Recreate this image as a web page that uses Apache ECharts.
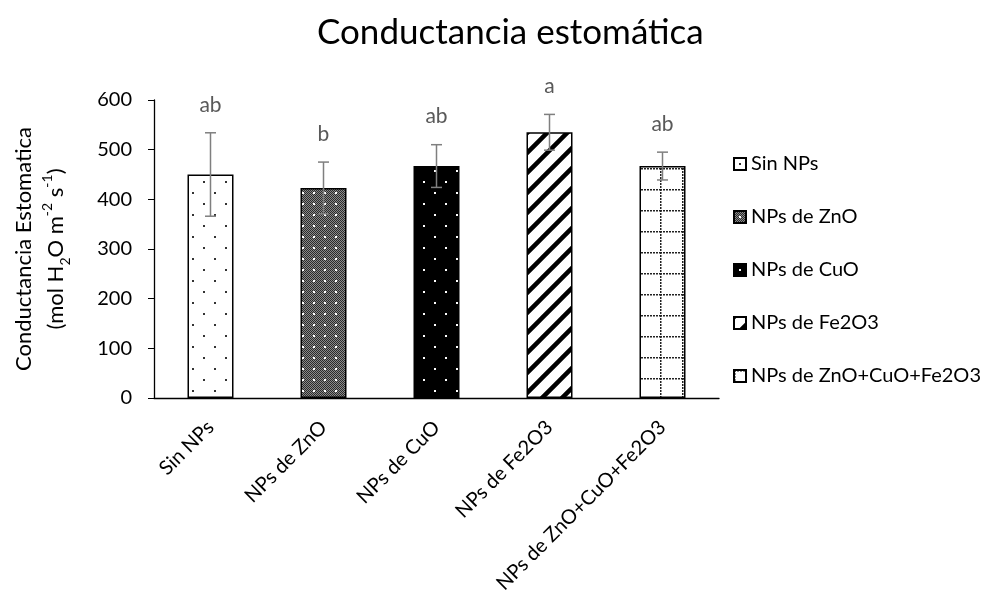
<!DOCTYPE html>
<html>
<head>
<meta charset="utf-8">
<script src="https://cdn.jsdelivr.net/npm/echarts@6/dist/echarts.min.js"></script>
<style>
html,body{margin:0;padding:0;background:#fff;}
#chart{width:995px;height:597px;}
</style>
</head>
<body>
<div id="chart"></div>
<script>
// ---- data ----
const categories = ['Sin NPs', 'NPs de ZnO', 'NPs de CuO', 'NPs de Fe2O3', 'NPs de ZnO+CuO+Fe2O3'];
const means = [450, 423, 467, 535, 467];
const sds = [84, 52, 43, 36, 28];
const letters = ['ab', 'b', 'ab', 'a', 'ab'];
const yTicks = [0, 100, 200, 300, 400, 500, 600];

const FONT = 'Lato, "Liberation Sans", sans-serif';

function makePattern(w, h, draw) {
  const c = document.createElement('canvas');
  c.width = w; c.height = h;
  const ctx = c.getContext('2d');
  draw(ctx, w, h);
  return { image: c, repeat: 'repeat' };
}

const patterns = [
  // white with black staggered dots
  makePattern(22, 22, (ctx, w, h) => {
    ctx.fillStyle = '#fff'; ctx.fillRect(0, 0, w, h);
    ctx.fillStyle = '#333';
    ctx.fillRect(5, 5, 2, 2);
    ctx.fillRect(16, 16, 2, 2);
  }),
  // dark fine checker with white dots
  makePattern(22, 22, (ctx, w, h) => {
    for (let y = 0; y < h; y++) {
      for (let x = 0; x < w; x++) {
        ctx.fillStyle = ((x + y) % 2 === 0) ? '#2a2a2a' : '#8a8a8a';
        ctx.fillRect(x, y, 1, 1);
      }
    }
    ctx.fillStyle = '#fff';
    ctx.fillRect(5, 5, 2, 2);
    ctx.fillRect(16, 16, 2, 2);
    ctx.fillRect(16, 5, 2, 2);
    ctx.fillRect(5, 16, 2, 2);
  }),
  // black with white staggered dots
  makePattern(22, 22, (ctx, w, h) => {
    ctx.fillStyle = '#000'; ctx.fillRect(0, 0, w, h);
    ctx.fillStyle = '#fff';
    ctx.fillRect(5, 5, 2, 2);
    ctx.fillRect(16, 16, 2, 2);
  }),
  // wide diagonal stripes
  makePattern(20, 20, (ctx, w, h) => {
    ctx.fillStyle = '#fff'; ctx.fillRect(0, 0, w, h);
    ctx.strokeStyle = '#000'; ctx.lineWidth = 4.5;
    ctx.beginPath();
    ctx.moveTo(-5, 25); ctx.lineTo(25, -5);
    ctx.moveTo(-15, 15); ctx.lineTo(15, -15);
    ctx.moveTo(5, 35); ctx.lineTo(35, 5);
    ctx.stroke();
  }),
  // dotted grid
  makePattern(22, 21, (ctx, w, h) => {
    ctx.fillStyle = '#fff'; ctx.fillRect(0, 0, w, h);
    ctx.fillStyle = '#222';
    for (let x = 0; x < w; x += 3) ctx.fillRect(x, 0, 2, 1.5);
    for (let y = 0; y < h; y += 3) ctx.fillRect(0, y, 1.5, 2);
  })
];

const barSeries = categories.map((name, i) => ({
  name: name,
  type: 'bar',
  barWidth: 46,
  barGap: '-100%',
  data: categories.map((c, j) => (j === i ? means[j] : '-')),
  itemStyle: { color: patterns[i], borderColor: '#000', borderWidth: 1.5 },
  emphasis: { disabled: true },
  animation: false
}));

const errSeries = {
  type: 'custom',
  name: 'err',
  z: 10,
  animation: false,
  data: categories.map((c, i) => [i, means[i], sds[i]]),
  renderItem: function (params, api) {
    const i = api.value(0), m = api.value(1), s = api.value(2);
    const top = api.coord([i, m + s]);
    const bot = api.coord([i, m - s]);
    const hw = 5.5;
    const st = { stroke: '#7f7f7f', lineWidth: 1.5 };
    return {
      type: 'group',
      children: [
        { type: 'line', shape: { x1: top[0], y1: top[1], x2: bot[0], y2: bot[1] }, style: st },
        { type: 'line', shape: { x1: top[0] - hw, y1: top[1], x2: top[0] + hw, y2: top[1] }, style: st },
        { type: 'line', shape: { x1: bot[0] - hw, y1: bot[1], x2: bot[0] + hw, y2: bot[1] }, style: st },
        { type: 'text', x: top[0], y: top[1] - 28,
          style: { text: letters[params.dataIndex], fill: '#595959', font: '21px ' + FONT, align: 'center', verticalAlign: 'middle' } }
      ]
    };
  }
};

const chart = echarts.init(document.getElementById('chart'), null, { renderer: 'canvas' });
chart.setOption({
  animation: false,
  backgroundColor: '#fff',
  textStyle: { fontFamily: FONT },
  title: {
    text: 'Conductancia estomática',
    left: 312, top: 10,
    textStyle: { fontFamily: FONT, fontSize: 35, fontWeight: 'normal', color: '#000' }
  },
  legend: {
    data: categories,
    orient: 'vertical',
    left: 728, top: 149,
    itemWidth: 12, itemHeight: 12, itemGap: 33,
    icon: 'rect',
    selectedMode: false,
    textStyle: { fontFamily: FONT, fontSize: 20, color: '#000' }
  },
  grid: { left: 154, right: 276, top: 100, bottom: 199, containLabel: false },
  xAxis: {
    type: 'category',
    data: categories,
    axisLine: { lineStyle: { color: '#000', width: 1.3 } },
    axisTick: { show: false },
    axisLabel: { rotate: 45, fontSize: 20, color: '#000', fontFamily: FONT, margin: 26, interval: 0 }
  },
  yAxis: {
    type: 'value',
    min: yTicks[0], max: yTicks[yTicks.length - 1], interval: 100,
    splitLine: { show: false },
    axisLine: { show: true, lineStyle: { color: '#000', width: 1.3 } },
    axisTick: { show: true, length: 6, lineStyle: { color: '#000' } },
    axisLabel: { fontSize: 20, color: '#000', fontFamily: FONT, margin: 22 },
    name: '{n|Conductancia Estomatica}\n{n|(mol H}{sub|2}{n|O m}{sup|-2}{n| s}{sup|-1}{n|)}',
    nameLocation: 'middle',
    nameRotate: 90,
    nameGap: 82,
    nameTextStyle: {
      fontFamily: FONT, color: '#000', align: 'center',
      rich: {
        n: { fontSize: 22, lineHeight: 32, fontFamily: FONT, color: '#000' },
        sub: { fontSize: 14, lineHeight: 14, verticalAlign: 'bottom', fontFamily: FONT, color: '#000' },
        sup: { fontSize: 14, lineHeight: 14, verticalAlign: 'top', fontFamily: FONT, color: '#000' }
      }
    }
  },
  series: barSeries.concat([errSeries])
});
</script>
</body>
</html>
